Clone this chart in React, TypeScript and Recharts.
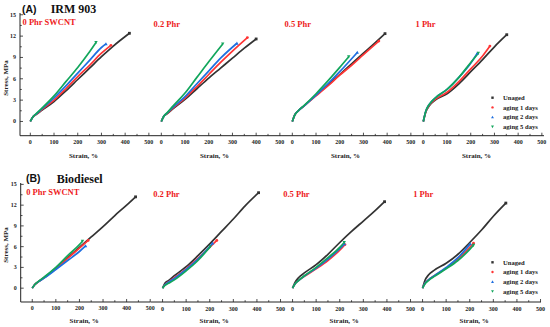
import React from 'react';
import { Line, LineChart, XAxis, YAxis } from 'recharts';

type Pair = [number, number];

// ---- (A) IRM 903 ----
const irm0Unaged: Pair[] = [[0, 0], [10, 0.6], [25, 1.0], [50, 1.6], [100, 2.8], [150, 4.3], [200, 5.9], [250, 7.5], [300, 9.1], [350, 10.6], [418, 12.4]];
const irm0Day1: Pair[] = [[0, 0], [10, 0.6], [25, 1.0], [50, 1.7], [100, 3.0], [150, 4.6], [200, 6.3], [250, 7.9], [300, 9.6], [340, 10.7]];
const irm0Day2: Pair[] = [[0, 0], [10, 0.6], [25, 1.05], [50, 1.8], [100, 3.3], [150, 5.0], [200, 6.8], [250, 8.6], [300, 10.4], [319, 10.9]];
const irm0Day5: Pair[] = [[0, 0], [10, 0.6], [25, 1.1], [50, 1.9], [100, 3.6], [150, 5.6], [200, 7.6], [250, 9.8], [277, 11.1]];

const irm02Unaged: Pair[] = [[0, 0], [10, 0.7], [25, 1.1], [50, 1.8], [100, 3.1], [150, 4.6], [200, 6.1], [250, 7.5], [300, 8.9], [350, 10.3], [400, 11.6]];
const irm02Day1: Pair[] = [[0, 0], [10, 0.7], [25, 1.15], [50, 1.9], [100, 3.3], [150, 4.9], [200, 6.6], [250, 8.3], [300, 9.9], [363, 11.8]];
const irm02Day2: Pair[] = [[0, 0], [10, 0.7], [25, 1.2], [50, 2.0], [100, 3.5], [150, 5.3], [200, 7.1], [250, 8.9], [319, 11.0]];
const irm02Day5: Pair[] = [[0, 0], [10, 0.7], [25, 1.25], [50, 2.2], [100, 4.0], [150, 6.2], [200, 8.4], [259, 10.9]];

const irm05Unaged: Pair[] = [[0, 0], [10, 0.9], [25, 1.5], [50, 2.2], [100, 3.7], [150, 5.1], [200, 6.6], [250, 8.1], [300, 9.6], [350, 11.1], [391, 12.35]];
const irm05Day1: Pair[] = [[0, 0], [10, 0.9], [25, 1.5], [50, 2.2], [100, 3.6], [150, 5.0], [200, 6.5], [250, 7.9], [300, 9.4], [365, 11.3]];
const irm05Day2: Pair[] = [[0, 0], [10, 0.9], [25, 1.5], [50, 2.2], [100, 3.7], [150, 5.3], [200, 7.0], [274, 9.7]];
const irm05Day5: Pair[] = [[0, 0], [10, 0.9], [25, 1.5], [50, 2.25], [100, 3.9], [150, 5.7], [200, 7.6], [238, 9.1]];

const irm1Unaged: Pair[] = [[0, 0], [10, 1.3], [25, 2.2], [50, 3.0], [100, 3.9], [150, 5.3], [200, 7.0], [250, 8.7], [300, 10.5], [352, 12.2]];
const irm1Day1: Pair[] = [[0, 0], [10, 1.3], [25, 2.3], [50, 3.1], [100, 4.1], [150, 5.6], [200, 7.4], [250, 9.2], [281, 10.6]];
const irm1Day2: Pair[] = [[0, 0], [10, 1.4], [25, 2.4], [50, 3.3], [100, 4.5], [150, 6.2], [200, 8.2], [228, 9.6]];
const irm1Day5: Pair[] = [[0, 0], [10, 1.4], [25, 2.4], [50, 3.3], [100, 4.5], [150, 6.2], [200, 8.3], [232, 9.6]];

// ---- (B) Biodiesel ----
const bio0Unaged: Pair[] = [[0, 0], [10, 0.5], [25, 0.9], [50, 1.5], [100, 2.9], [150, 4.4], [200, 5.9], [250, 7.4], [300, 8.9], [350, 10.5], [400, 12.0], [438, 13.2]];
const bio0Day1: Pair[] = [[0, 0], [10, 0.5], [25, 0.9], [50, 1.5], [100, 2.8], [150, 4.3], [200, 5.8], [237, 6.9]];
const bio0Day2: Pair[] = [[0, 0], [10, 0.5], [25, 0.9], [50, 1.45], [100, 2.7], [150, 4.0], [200, 5.3], [226, 6.1]];
const bio0Day5: Pair[] = [[0, 0], [10, 0.5], [25, 0.95], [50, 1.6], [100, 3.0], [150, 4.7], [200, 6.3], [213, 6.8]];

const bio02Unaged: Pair[] = [[0, 0], [10, 0.7], [25, 1.1], [50, 1.8], [100, 3.1], [150, 4.7], [200, 6.4], [250, 8.2], [300, 10.0], [350, 11.9], [407, 13.8]];
const bio02Day1: Pair[] = [[0, 0], [10, 0.5], [25, 0.9], [50, 1.5], [100, 2.8], [150, 4.3], [200, 5.9], [230, 6.9]];
const bio02Day2: Pair[] = [[0, 0], [10, 0.5], [25, 0.85], [50, 1.4], [100, 2.7], [150, 4.2], [200, 6.0], [212, 6.5]];
const bio02Day5: Pair[] = [[0, 0], [10, 0.4], [25, 0.7], [50, 1.2], [100, 2.5], [150, 4.0], [202, 6.0]];

const bio05Unaged: Pair[] = [[0, 0], [10, 0.8], [25, 1.5], [50, 2.2], [100, 3.4], [150, 4.9], [200, 6.6], [250, 8.2], [300, 9.7], [350, 11.2], [390, 12.5]];
const bio05Day1: Pair[] = [[0, 0], [10, 0.6], [25, 1.1], [50, 1.7], [100, 2.8], [150, 4.0], [200, 5.5], [222, 6.3]];
const bio05Day2: Pair[] = [[0, 0], [10, 0.6], [25, 1.1], [50, 1.75], [100, 2.9], [150, 4.2], [200, 5.7], [220, 6.4]];
const bio05Day5: Pair[] = [[0, 0], [10, 0.6], [25, 1.1], [50, 1.8], [100, 3.0], [150, 4.4], [200, 5.9], [219, 6.6]];

const bio1Unaged: Pair[] = [[0, 0], [10, 1.1], [25, 1.9], [50, 2.6], [100, 3.6], [150, 4.9], [200, 6.6], [250, 8.4], [300, 10.4], [353, 12.3]];
const bio1Day1: Pair[] = [[0, 0], [10, 0.7], [25, 1.2], [50, 1.8], [100, 2.9], [150, 4.2], [200, 5.9], [216, 6.5]];
const bio1Day2: Pair[] = [[0, 0], [10, 0.7], [25, 1.2], [50, 1.8], [100, 3.0], [150, 4.4], [202, 6.4]];
const bio1Day5: Pair[] = [[0, 0], [10, 0.6], [25, 1.1], [50, 1.7], [100, 2.8], [150, 4.0], [200, 5.6], [216, 6.2]];

const seriesNames = ['Unaged', 'aging 1 days', 'aging 2 days', 'aging 5 days'];
const seriesColors = ['#333333', '#ff3535', '#1f6fe0', '#12a65c'];
const seriesShapes = ['square', 'circle', 'up', 'down'];
const panelLabels = ['0 Phr SWCNT', '0.2 Phr', '0.5 Phr', '1 Phr'];
const strainTicks = [0, 50, 100, 150, 200, 250, 300, 350, 400, 450, 500];
const stressTicks = [0, 1.5, 3, 4.5, 6, 7.5, 9, 10.5, 12, 13.5, 15];

const irmPanels = [
  [irm0Unaged, irm0Day1, irm0Day2, irm0Day5],
  [irm02Unaged, irm02Day1, irm02Day2, irm02Day5],
  [irm05Unaged, irm05Day1, irm05Day2, irm05Day5],
  [irm1Unaged, irm1Day1, irm1Day2, irm1Day5],
];
const bioPanels = [
  [bio0Unaged, bio0Day1, bio0Day2, bio0Day5],
  [bio02Unaged, bio02Day1, bio02Day2, bio02Day5],
  [bio05Unaged, bio05Day1, bio05Day2, bio05Day5],
  [bio1Unaged, bio1Day1, bio1Day2, bio1Day5],
];

const SERIF = '"Liberation Serif", "Times New Roman", serif';
const SANS = '"Liberation Sans", Arial, sans-serif';
const AXIS_H = 20;

const rows = [
  { tag: '(A)', title: 'IRM 903', panels: irmPanels, top: 13.3, plotH: 122.7, left: 20, panelW: 131, xDomain: [-43.5, 509], yDomain: [-2, 15.25] },
  { tag: '(B)', title: 'Biodiesel', panels: bioPanels, top: 182.7, plotH: 119, left: 20.7, panelW: 130, xDomain: [-49, 502], yDomain: [-2, 15.2] },
];

function Marker({ shape, x, y, color, s = 1.8 }: { shape: string; x: number; y: number; color: string; s?: number }) {
  if (shape === 'square') return <rect x={x - s} y={y - s} width={s * 2} height={s * 2} fill={color} />;
  if (shape === 'circle') return <circle cx={x} cy={y} r={s} fill={color} />;
  if (shape === 'up') return <path d={`M${x},${y - s * 1.2} L${x + s * 1.2},${y + s} L${x - s * 1.2},${y + s} Z`} fill={color} />;
  return <path d={`M${x},${y + s * 1.2} L${x + s * 1.2},${y - s} L${x - s * 1.2},${y - s} Z`} fill={color} />;
}

function XTick(props: any) {
  const { x, y, payload } = props;
  const major = payload.value % 100 === 0;
  return (
    <g>
      <line x1={x} x2={x} y1={y} y2={y - (major ? 3 : 1.8)} stroke="#222" strokeWidth={0.8} />
      {major && (
        <text x={x} y={y + 8.5} textAnchor="middle" fontSize={6} fontWeight="bold" fontFamily={SERIF} fill="#222">
          {payload.value}
        </text>
      )}
    </g>
  );
}

function YTick(props: any) {
  const { x, y, payload } = props;
  const major = payload.value % 3 === 0;
  return (
    <g>
      <line x1={x} x2={x + (major ? 3 : 1.8)} y1={y} y2={y} stroke="#222" strokeWidth={0.8} />
      {major && (
        <text x={x - 4} y={y + 2} textAnchor="end" fontSize={6} fontWeight="bold" fontFamily={SERIF} fill="#222">
          {payload.value}
        </text>
      )}
    </g>
  );
}

const endDot = (len: number, shape: string, color: string) => (p: any) =>
  p.index === len - 1 ? <Marker key={p.key} shape={shape} x={p.cx} y={p.cy} color={color} s={1.4} /> : <g key={p.key} />;

export default function App() {
  return (
    <div style={{ position: 'absolute', left: 0, top: 0, width: 550, height: 327, background: '#fff', overflow: 'hidden' }}>
      <style>{'.recharts-surface { overflow: visible; } .recharts-wrapper { overflow: visible; }'}</style>
      {rows.map((row) =>
        row.panels.map((curves, i) => {
          const first = i === 0;
          const w = row.panelW + (first ? row.left : 0);
          const left = first ? 0 : row.left + i * row.panelW;
          return (
            <div key={row.tag + i} style={{ position: 'absolute', left, top: row.top, zIndex: 4 - i }}>
              <LineChart width={w} height={row.plotH + AXIS_H} margin={{ top: 0, right: 0, bottom: 0, left: 0 }}>
                <XAxis
                  type="number"
                  dataKey="x"
                  domain={row.xDomain}
                  ticks={strainTicks}
                  interval={0}
                  allowDataOverflow
                  height={AXIS_H}
                  tickLine={false}
                  tickSize={0}
                  tickMargin={0}
                  axisLine={{ stroke: '#222', strokeWidth: 1 }}
                  tick={<XTick />}
                />
                <YAxis
                  type="number"
                  domain={row.yDomain}
                  ticks={stressTicks}
                  interval={0}
                  allowDataOverflow
                  hide={!first}
                  width={first ? row.left : 0}
                  tickLine={false}
                  tickSize={0}
                  tickMargin={0}
                  axisLine={{ stroke: '#222', strokeWidth: 1 }}
                  tick={<YTick />}
                />
                {curves.map((c, k) => {
                  const pts = c.map(([x, y]) => ({ x, y }));
                  return (
                    <Line
                      key={k}
                      data={pts}
                      dataKey="y"
                      type="monotone"
                      stroke={seriesColors[k]}
                      strokeWidth={1.7}
                      dot={endDot(pts.length, seriesShapes[k], seriesColors[k])}
                      activeDot={false}
                      isAnimationActive={false}
                    />
                  );
                })}
              </LineChart>
            </div>
          );
        })
      )}
      <svg width={550} height={327} style={{ position: 'absolute', left: 0, top: 0, pointerEvents: 'none', zIndex: 10 }}>
        {rows.map((row, r) => {
          const baseTop = row.top;
          const tagY = r === 0 ? 12.5 : 182;
          const tagX = r === 0 ? 22 : 26;
          const titleX = r === 0 ? 50.7 : 56.7;
          const legendY = r === 0 ? 97.7 : 262.3;
          const axisY = row.top + row.plotH;
          return (
            <g key={row.tag}>
              <text x={tagX} y={tagY} fontSize={10.5} fontWeight="bold" fontFamily={SANS} fill="#111">{row.tag}</text>
              <text x={titleX} y={tagY + 0.5} fontSize={12} fontWeight="bold" fontFamily={SERIF} fill="#111">{row.title}</text>
              {panelLabels.map((lab, i) => (
                <text
                  key={lab}
                  x={i === 0 ? row.left + 2.5 + (r === 1 ? 3 : 0) : row.left + i * row.panelW + 2.5}
                  y={baseTop + (i === 0 ? 11.8 : 14)}
                  fontSize={8.5}
                  fontWeight="bold"
                  fontFamily={SERIF}
                  fill="#ee1c1c"
                >
                  {lab}
                </text>
              ))}
              {panelLabels.map((lab, i) => (
                <text
                  key={'s' + lab}
                  x={row.left + i * row.panelW + 63.5}
                  y={axisY + 21.5}
                  textAnchor="middle"
                  fontSize={7}
                  fontWeight="bold"
                  fontFamily={SERIF}
                  fill="#222"
                >
                  Strain, %
                </text>
              ))}
              <text
                transform={`translate(8, ${r === 0 ? 78 : 245}) rotate(-90)`}
                textAnchor="middle"
                fontSize={7}
                fontWeight="bold"
                fontFamily={SERIF}
                fill="#222"
              >
                Stress, MPa
              </text>
              {seriesNames.map((name, k) => (
                <g key={name}>
                  <Marker shape={seriesShapes[k]} x={492.5} y={legendY + k * 9.7} color={seriesColors[k]} s={1.2} />
                  <text x={503} y={legendY + k * 9.7 + 2.3} fontSize={6.6} fontWeight="bold" fontFamily={SERIF} fill="#222">
                    {name}
                  </text>
                </g>
              ))}
            </g>
          );
        })}
      </svg>
    </div>
  );
}
